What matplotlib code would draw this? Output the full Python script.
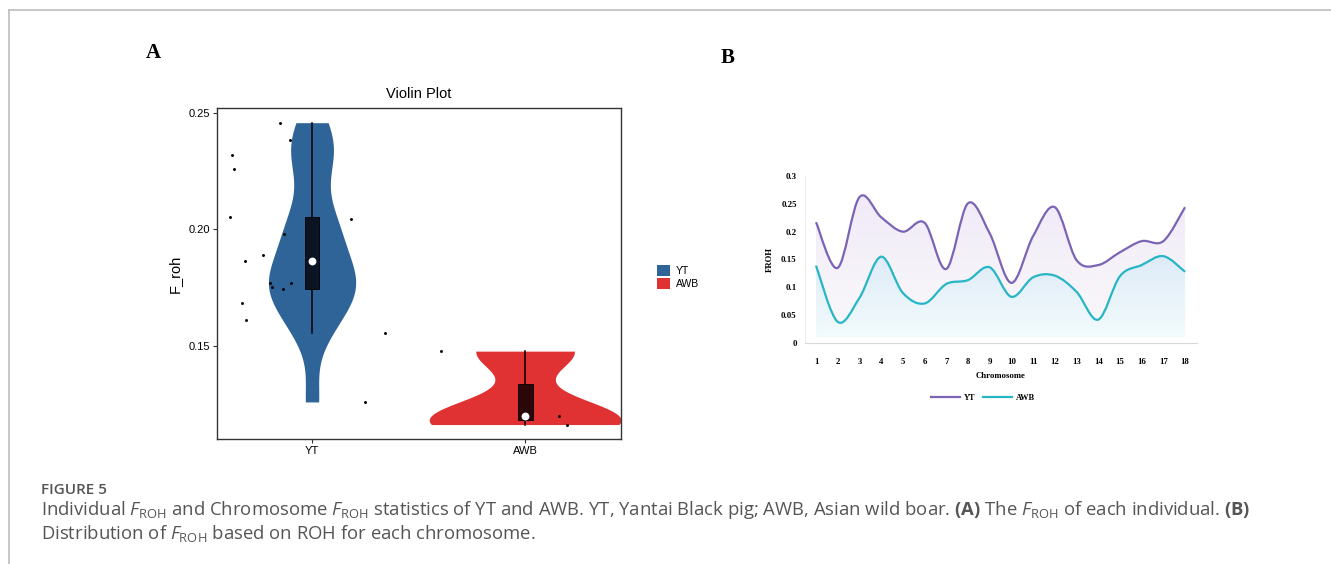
import numpy as np
import matplotlib
matplotlib.use("Agg")
import matplotlib.pyplot as plt
from matplotlib.path import Path
from matplotlib.patches import PathPatch
from matplotlib.lines import Line2D
from matplotlib.patches import Patch

# ---------------- data ----------------
groups = ["YT", "AWB"]
yt_froh = [0.2458, 0.2384, 0.2320, 0.2260, 0.2052, 0.2043, 0.1980, 0.1890, 0.1866,
           0.1772, 0.1753, 0.1745, 0.1770, 0.1684, 0.1612, 0.1556, 0.1260]
yt_jitter = [-0.150, -0.103, -0.376, -0.366, -0.385, 0.183, -0.131, -0.230, -0.315,
             -0.197, -0.188, -0.136, -0.099, -0.329, -0.310, 0.343, 0.249]
awb_froh = [0.1478, 0.1200, 0.1163]
awb_jitter = [-0.394, 0.160, 0.197]

chromosomes = list(range(1, 19))
yt_chr = [0.217, 0.135, 0.262, 0.226, 0.200, 0.216, 0.133, 0.251, 0.197,
          0.108, 0.192, 0.244, 0.149, 0.140, 0.163, 0.183, 0.183, 0.244]
awb_chr = [0.139, 0.038, 0.081, 0.155, 0.090, 0.071, 0.106, 0.113, 0.136,
           0.083, 0.118, 0.121, 0.092, 0.042, 0.120, 0.140, 0.156, 0.128]

# ---------------- styles ----------------
violin_colors = ["#2E6497", "#E03232"]
box_colors = ["#0B1422", "#2C0709"]
yt_line = "#7B63B5"
awb_line = "#26B6C6"

plt.rcParams["font.family"] = ["Liberation Sans", "DejaVu Sans"]
plt.rcParams["mathtext.fontset"] = "custom"
plt.rcParams["mathtext.rm"] = "Open Sans"
plt.rcParams["mathtext.it"] = "Open Sans:italic"
plt.rcParams["mathtext.bf"] = "Open Sans:bold"

W, H = 1331, 564
fig = plt.figure(figsize=(W / 100, H / 100), dpi=100)


def fx(px):
    return px / W


def fy(py):
    return 1 - py / H


# outer frame lines
fig.add_artist(Line2D([fx(9), 1], [fy(10), fy(10)], color="#BDBDBD", lw=1.2))
fig.add_artist(Line2D([fx(9), fx(9)], [fy(10), 0], color="#BDBDBD", lw=1.2))

# panel letters
fig.text(fx(153), fy(53), "A", family="Liberation Serif", weight="bold",
         fontsize=15, ha="center", va="center")
fig.text(fx(728), fy(58), "B", family="Liberation Serif", weight="bold",
         fontsize=15, ha="center", va="center")

# ---------------- Panel A: violin ----------------
axA = fig.add_axes([fx(217), fy(439), fx(621 - 217), fy(108) - fy(439)])


def nrd0(x):
    x = np.asarray(x)
    hi = np.std(x, ddof=1)
    q75, q25 = np.percentile(x, [75, 25])
    lo = min(hi, (q75 - q25) / 1.34)
    return 0.9 * lo * len(x) ** (-0.2)


datasets = [np.array(yt_froh), np.array(awb_froh)]
jitters = [yt_jitter, awb_jitter]
dens_list = []
for d in datasets:
    bw = nrd0(d)
    grid = np.linspace(d.min(), d.max(), 512)
    dens = np.exp(-0.5 * ((grid[:, None] - d[None, :]) / bw) ** 2).sum(axis=1)
    dens /= (len(d) * bw * np.sqrt(2 * np.pi))
    dens_list.append((grid, dens))
maxd = max(dn.max() for _, dn in dens_list)

for i, (d, (grid, dens)) in enumerate(zip(datasets, dens_list)):
    pos = i + 1
    hw = dens / maxd * 0.45
    axA.fill_betweenx(grid, pos - hw, pos + hw, color=violin_colors[i], lw=0, zorder=1)
    q1, med, q3 = np.percentile(d, [25, 50, 75])
    iqr = q3 - q1
    lo_w = d[d >= q1 - 1.5 * iqr].min()
    hi_w = d[d <= q3 + 1.5 * iqr].max()
    axA.plot([pos, pos], [lo_w, hi_w], color="black", lw=1.1, zorder=2)
    bw_box = 0.035
    axA.add_patch(plt.Rectangle((pos - bw_box, q1), 2 * bw_box, q3 - q1,
                                facecolor=box_colors[i], edgecolor="black",
                                lw=0.6, zorder=3))
    axA.scatter([pos], [med], s=32, color="white", zorder=4, lw=0)
    axA.scatter(pos + np.array(jitters[i]), d, s=4.5, color="black", zorder=5, lw=0)

axA.set_xlim(0.554, 2.45)
axA.set_ylim(0.1101, 0.2521)
axA.set_xticks([1, 2])
axA.set_xticklabels(groups, fontsize=8)
axA.set_yticks([0.15, 0.20, 0.25])
axA.set_yticklabels(["0.15", "0.20", "0.25"], fontsize=8)
axA.tick_params(length=3, width=0.8, color="#333333", pad=2)
for s in axA.spines.values():
    s.set_color("#333333")
    s.set_linewidth(1.0)
axA.set_ylabel("F_roh", fontsize=10.5, labelpad=5)
axA.set_title("Violin Plot", fontsize=10.5, pad=7)

fig.legend(handles=[Patch(facecolor=violin_colors[0], label="YT"),
                    Patch(facecolor=violin_colors[1], label="AWB")],
           loc="center left", bbox_to_anchor=(fx(648), fy(277)), frameon=False,
           fontsize=7.5, handlelength=1.25, handleheight=1.25, handletextpad=0.5,
           labelspacing=0.15)

# ---------------- Panel B: smoothed lines ----------------
axB = fig.add_axes([fx(805), fy(343), fx(1197 - 805), fy(176) - fy(343)])
axB.set_xlim(0.493, 18.55)
axB.set_ylim(0, 0.3)


def smooth_path(xs, ys, base=None):
    P = np.column_stack([xs, ys]).astype(float)
    n = len(P)
    verts, codes = [], []
    if base is not None:
        verts.append((P[0, 0], base)); codes.append(Path.MOVETO)
        verts.append(tuple(P[0])); codes.append(Path.LINETO)
    else:
        verts.append(tuple(P[0])); codes.append(Path.MOVETO)
    for k in range(n - 1):
        p0 = P[k - 1] if k > 0 else P[k]
        p1, p2 = P[k], P[k + 1]
        p3 = P[k + 2] if k + 2 < n else P[k + 1]
        c1 = p1 + (p2 - p0) / 6.0
        c2 = p2 - (p3 - p1) / 6.0
        verts += [tuple(c1), tuple(c2), tuple(p2)]
        codes += [Path.CURVE4] * 3
    if base is not None:
        verts.append((P[-1, 0], base)); codes.append(Path.LINETO)
        verts.append((P[0, 0], base)); codes.append(Path.CLOSEPOLY)
    return Path(verts, codes)


def gradient_fill(ax, xs, ys, top_rgba, bot_rgba, z):
    base = 0.01
    clip = PathPatch(smooth_path(xs, ys, base), facecolor="none", edgecolor="none",
                     transform=ax.transData)
    ax.add_patch(clip)
    t = np.linspace(0, 1, 256)[:, None]
    top = np.array(top_rgba)
    bot = np.array(bot_rgba)
    img = (top[None, :] * (1 - t) + bot[None, :] * t)[:, None, :]
    im = ax.imshow(img, extent=[xs[0], xs[-1], base, max(ys)], origin="upper",
                   aspect="auto", zorder=z)
    im.set_clip_path(clip)


gradient_fill(axB, chromosomes, yt_chr, (0.94, 0.92, 0.97, 1), (0.985, 0.975, 0.985, 1), 1)
gradient_fill(axB, chromosomes, awb_chr, (0.87, 0.92, 0.97, 1), (0.95, 0.985, 0.99, 1), 2)

axB.add_patch(PathPatch(smooth_path(chromosomes, yt_chr), facecolor="none",
                        edgecolor=yt_line, lw=1.6, zorder=3, clip_on=False))
axB.add_patch(PathPatch(smooth_path(chromosomes, awb_chr), facecolor="none",
                        edgecolor=awb_line, lw=1.6, zorder=3, clip_on=False))

axB.set_xticks(chromosomes)
axB.set_xticklabels([str(c) for c in chromosomes], family="Liberation Serif",
                    weight="bold", fontsize=6.3)
axB.set_yticks([0, 0.05, 0.1, 0.15, 0.2, 0.25, 0.3])
axB.set_yticklabels(["0", "0.05", "0.1", "0.15", "0.2", "0.25", "0.3"],
                    family="Liberation Serif", weight="bold", fontsize=6.3)
axB.tick_params(axis="x", length=0, pad=11)
axB.tick_params(axis="y", length=0, pad=6)
for side in ["top", "right"]:
    axB.spines[side].set_visible(False)
axB.spines["bottom"].set_color("#D9D9D9")
axB.spines["left"].set_color("#EFEFEF")
axB.set_xlabel("Chromosome", family="Liberation Serif", weight="bold", fontsize=6.3, labelpad=4)
axB.set_ylabel("FROH", family="Liberation Serif", weight="bold", fontsize=6.3, labelpad=5)

fig.legend(handles=[Line2D([], [], color=yt_line, lw=1.6, label="YT"),
                    Line2D([], [], color=awb_line, lw=1.6, label="AWB")],
           loc="center", bbox_to_anchor=(fx(983), fy(398)), ncol=2, frameon=False,
           prop={"family": "Liberation Serif", "weight": "bold", "size": 6},
           handlelength=3.5, handletextpad=0.5, columnspacing=0.8)

# ---------------- caption ----------------
fig.text(fx(41), fy(490), "FIGURE 5", family="Open Sans", weight="semibold",
         fontsize=11, color="#555555", va="center")
line1 = (r"Individual $\mathit{F}_{\mathrm{ROH}}$ and Chromosome $\mathit{F}_{\mathrm{ROH}}$ "
         r"statistics of YT and AWB. YT, Yantai Black pig; AWB, Asian wild boar. "
         r"$\mathbf{(A)}$ The $\mathit{F}_{\mathrm{ROH}}$ of each individual. $\mathbf{(B)}$")
line2 = r"Distribution of $\mathit{F}_{\mathrm{ROH}}$ based on ROH for each chromosome."
fig.text(fx(41), fy(510), line1, family="Open Sans", fontsize=13.3, color="#555555", va="center")
fig.text(fx(41), fy(534), line2, family="Open Sans", fontsize=13.3, color="#555555", va="center")

fig.savefig("out.png", dpi=100)
